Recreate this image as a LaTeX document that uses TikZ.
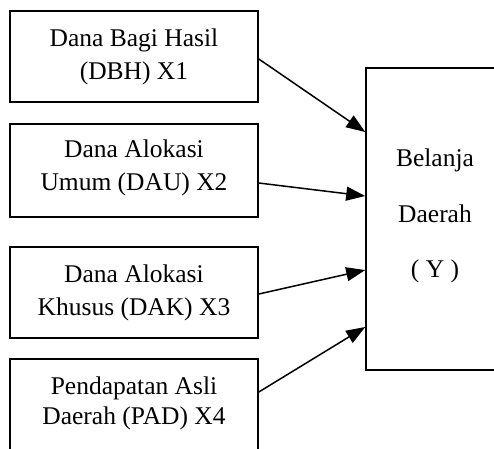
\documentclass[tikz,border=0pt]{standalone}
\usepackage{fontspec}
\setmainfont{Liberation Serif}
\usetikzlibrary{arrows.meta}
\begin{document}
\begin{tikzpicture}[x=1pt,y=-1pt,
  box/.style={draw,line width=1.6pt,minimum width=248pt,minimum height=91pt,inner sep=0pt,align=center,font=\fontsize{25.5}{33}\selectfont},
  ybox/.style={draw,line width=1.6pt,minimum width=138pt,minimum height=302pt,inner sep=0pt},
  arr/.style={line width=1.5pt,-{Triangle[length=19pt,width=14pt]}}]
\useasboundingbox (0,0) rectangle (494,448);
\clip (0,0) rectangle (494,448);
\fill[white] (0,0) rectangle (494,448);
\node[box] (b1) at (134,56.5) {Dana Bagi Hasil\\(DBH) X1};
\node[box,minimum height=93pt] (b2) at (134,170.5) {};
\node[font=\fontsize{25.5}{33}\selectfont,align=center,inner sep=0pt] (t2) at (134,168) {Dana Alokasi\\Umum (DAU) X2};
\node[box] (b3) at (134,292.5) {Dana Alokasi\\Khusus (DAK) X3};
\node[box,minimum height=101pt] (b4) at (134,409.5) {};
\node[font=\fontsize{25.5}{30}\selectfont,align=center,inner sep=0pt] (t4) at (134,403) {Pendapatan Asli\\Daerah (PAD) X4};
\node[ybox] (y) at (435,219) {};
\node[font=\fontsize{25.5}{55.5}\selectfont,align=center,inner sep=0pt] (yt) at (435,216) {Belanja\\Daerah\\( Y )};
\draw[arr] ([yshift=-2.5pt]b1.east) -- ([yshift=87pt]y.west);
\draw[arr] ([yshift=-12.5pt]b2.east) -- ([yshift=23pt]y.west);
\draw[arr] ([yshift=-1.5pt]b3.east) -- ([yshift=-51pt]y.west);
\draw[arr] ([yshift=17.5pt]b4.east) -- ([yshift=-108pt]y.west);
\end{tikzpicture}
\end{document}
